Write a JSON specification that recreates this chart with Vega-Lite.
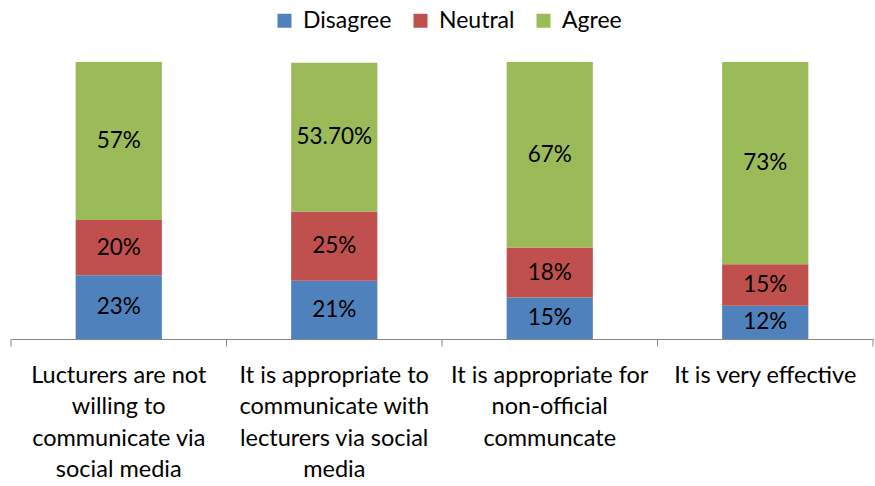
{
  "$schema": "https://vega.github.io/schema/vega-lite/v6.json",
  "width": 862,
  "height": 277,
  "autosize": "none",
  "padding": {"left": 11, "top": 62, "right": 2, "bottom": 147},
  "background": "white",
  "config": {"view": {"stroke": null}, "font": "Lato"},
  "data": {"values": [
    {"q": "Lucturers are not|willing to|communicate via|social media", "resp": "Disagree", "ord": 1, "v": 23, "label": "23%"},
    {"q": "Lucturers are not|willing to|communicate via|social media", "resp": "Neutral", "ord": 2, "v": 20, "label": "20%"},
    {"q": "Lucturers are not|willing to|communicate via|social media", "resp": "Agree", "ord": 3, "v": 57, "label": "57%"},
    {"q": "It is appropriate to|communicate with|lecturers via social|media", "resp": "Disagree", "ord": 1, "v": 21, "label": "21%"},
    {"q": "It is appropriate to|communicate with|lecturers via social|media", "resp": "Neutral", "ord": 2, "v": 25, "label": "25%"},
    {"q": "It is appropriate to|communicate with|lecturers via social|media", "resp": "Agree", "ord": 3, "v": 53.7, "label": "53.70%"},
    {"q": "It is appropriate for|non-official|communcate", "resp": "Disagree", "ord": 1, "v": 15, "label": "15%"},
    {"q": "It is appropriate for|non-official|communcate", "resp": "Neutral", "ord": 2, "v": 18, "label": "18%"},
    {"q": "It is appropriate for|non-official|communcate", "resp": "Agree", "ord": 3, "v": 67, "label": "67%"},
    {"q": "It is very effective", "resp": "Disagree", "ord": 1, "v": 12, "label": "12%"},
    {"q": "It is very effective", "resp": "Neutral", "ord": 2, "v": 15, "label": "15%"},
    {"q": "It is very effective", "resp": "Agree", "ord": 3, "v": 73, "label": "73%"}
  ]},
  "transform": [
    {"stack": "v", "groupby": ["q"], "sort": [{"field": "ord", "order": "ascending"}], "as": ["y0", "y1"]},
    {"calculate": "(datum.y0 + datum.y1) / 2", "as": "mid"}
  ],
  "encoding": {
    "x": {
      "field": "q", "type": "nominal", "sort": null, "title": null,
      "scale": {"paddingInner": 0.6, "paddingOuter": 0.3},
      "axis": {
        "labelAngle": 0, "labelExpr": "split(datum.value, '|')",
        "labelFont": "Lato", "labelFontSize": 23.5, "labelColor": "#000000",
        "labelLineHeight": 31.5, "labelPadding": 24, "labelBaseline": "top",
        "ticks": false,
        "domainColor": "#868686", "domainWidth": 1,
        "labelLimit": 0
      }
    }
  },
  "layer": [
    {
      "mark": {"type": "bar"},
      "encoding": {
        "y": {"field": "y0", "type": "quantitative", "scale": {"domain": [0, 100]}, "axis": null},
        "y2": {"field": "y1"},
        "color": {
          "field": "resp", "type": "nominal",
          "scale": {"domain": ["Disagree", "Neutral", "Agree"], "range": ["#4F81BD", "#C0504D", "#9BBB59"]},
          "legend": {
            "title": null, "orient": "none", "direction": "horizontal",
            "legendX": 262, "legendY": -53,
            "symbolType": "square", "symbolSize": 196, "symbolStrokeWidth": 0,
            "labelFont": "Lato", "labelFontSize": 23, "labelColor": "#000000",
            "labelOffset": 7, "columnPadding": 17
          }
        }
      }
    },
    {
      "mark": {"type": "text", "font": "Lato", "fontSize": 22.5, "color": "#000000", "baseline": "middle"},
      "encoding": {
        "y": {"field": "mid", "type": "quantitative", "scale": {"domain": [0, 100]}},
        "text": {"field": "label"}
      }
    },
    {
      "transform": [{"filter": "datum.resp === 'Disagree'"}],
      "mark": {"type": "rule", "color": "#868686", "strokeWidth": 1},
      "encoding": {
        "x": {"field": "q", "type": "nominal", "sort": null, "bandPosition": -0.75},
        "y": {"datum": 0, "type": "quantitative"},
        "y2": {"datum": -2.7}
      }
    },
    {
      "transform": [{"filter": "datum.resp === 'Disagree' && datum.q === 'It is very effective'"}],
      "mark": {"type": "rule", "color": "#868686", "strokeWidth": 1},
      "encoding": {
        "x": {"field": "q", "type": "nominal", "sort": null, "bandPosition": 1.75},
        "y": {"datum": 0, "type": "quantitative"},
        "y2": {"datum": -2.7}
      }
    }
  ]
}
